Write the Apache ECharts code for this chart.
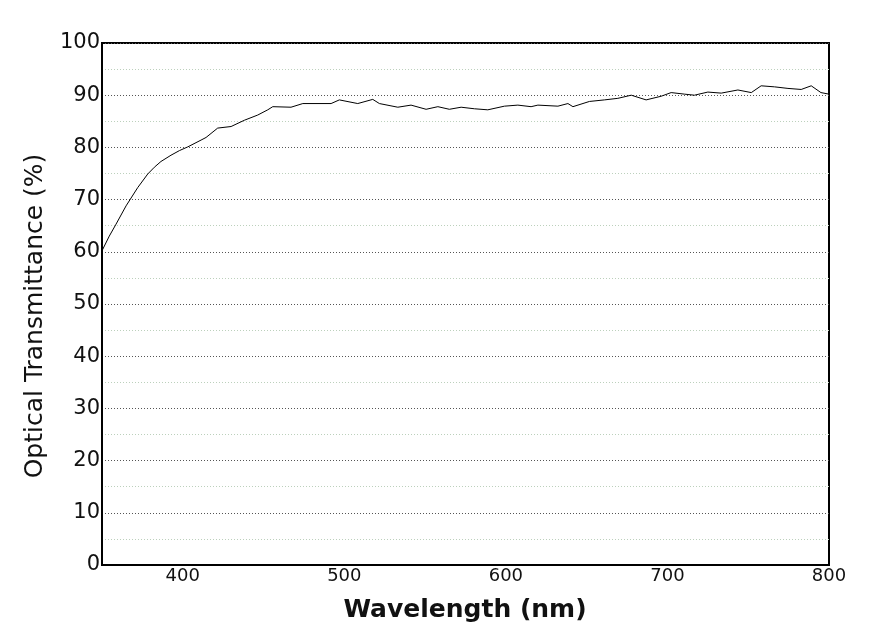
<!DOCTYPE html>
<html>
<head>
<meta charset="utf-8">
<script src="https://cdn.jsdelivr.net/npm/echarts@6/dist/echarts.min.js"></script>
<style>html,body{margin:0;padding:0;background:#fff;}#c{width:891px;height:628px;}</style>
</head>
<body>
<div id="c"></div>
<script>
const wavelengths = [350, 354.5, 358.7, 364.9, 372.1, 378.3, 382.4, 386.5, 392.7, 398.0, 403.1, 411.3, 414.4, 421.6, 429.9, 438.1, 446.4, 452.6, 455.7, 467.0, 474.3, 491.8, 496.9, 508.3, 517.6, 521.7, 533.1, 541.3, 550.6, 557.9, 565.0, 572.3, 580.5, 588.8, 599.1, 607.4, 615.6, 619.8, 632.2, 638.4, 641.5, 651.7, 661.0, 669.3, 677.6, 686.8, 696.1, 702.3, 710.6, 716.7, 725.0, 733.3, 743.6, 751.9, 758.0, 766.3, 774.6, 782.8, 789.0, 795.0, 800];
const transmittance = [60.2, 63.0, 65.3, 68.8, 72.3, 74.9, 76.2, 77.3, 78.5, 79.4, 80.1, 81.4, 81.9, 83.7, 84.0, 85.2, 86.2, 87.2, 87.8, 87.7, 88.4, 88.4, 89.1, 88.4, 89.2, 88.4, 87.7, 88.1, 87.3, 87.8, 87.3, 87.7, 87.4, 87.2, 87.9, 88.1, 87.8, 88.1, 87.9, 88.4, 87.8, 88.8, 89.1, 89.4, 90.0, 89.1, 89.8, 90.5, 90.2, 90.0, 90.6, 90.4, 91.0, 90.5, 91.8, 91.6, 91.3, 91.1, 91.8, 90.5, 90.2];
const xTicks = [400, 500, 600, 700, 800];
const yTicks = [0, 10, 20, 30, 40, 50, 60, 70, 80, 90, 100];
const xTitle = 'Wavelength (nm)';
const yTitle = 'Optical Transmittance (%)';

const FONT = '"DejaVu Sans", sans-serif';
const chart = echarts.init(document.getElementById('c'), null, {renderer: 'canvas'});
const data = wavelengths.map((w, i) => [w, transmittance[i]]);
chart.setOption({
  animation: false,
  backgroundColor: '#fff',
  grid: {left: 102, right: 62, top: 43, bottom: 63, show: true, borderColor: '#000', borderWidth: 2, backgroundColor: 'transparent'},
  xAxis: {
    type: 'value', min: 350, max: 800, interval: 50,
    axisLine: {show: true, lineStyle: {color: '#000', width: 2}},
    axisTick: {show: false},
    splitLine: {show: false},
    axisLabel: {
      color: '#111', fontFamily: FONT, fontSize: 18, margin: 2,
      formatter: v => xTicks.indexOf(v) >= 0 ? String(v) : ''
    }
  },
  yAxis: {
    type: 'value', min: 0, max: 100, interval: 10,
    axisLine: {show: true, lineStyle: {color: '#000', width: 2}},
    axisTick: {show: false},
    axisLabel: {
      color: '#111', fontFamily: FONT, fontSize: 21, margin: 2,
      formatter: v => yTicks.indexOf(v) >= 0 ? String(v) : ''
    },
    splitLine: {show: true, lineStyle: {color: '#555', type: [1, 2], width: 1}},
    minorTick: {show: false, splitNumber: 2},
    minorSplitLine: {show: true, lineStyle: {color: '#bcd0bc', type: [1, 2], width: 1}}
  },
  graphic: [
    {type: 'text', x: 35, y: 316, rotation: Math.PI / 2,
     style: {text: yTitle, font: '25px ' + FONT, fill: '#111', textAlign: 'center', textVerticalAlign: 'middle'}},
    {type: 'text', x: 465, y: 610,
     style: {text: xTitle, font: 'bold 25px ' + FONT, fill: '#111', textAlign: 'center', textVerticalAlign: 'middle'}}
  ],
  series: [{
    type: 'line', data: data, showSymbol: false, symbol: 'none',
    lineStyle: {color: '#000', width: 1}, z: 5
  }]
});
</script>
</body>
</html>
